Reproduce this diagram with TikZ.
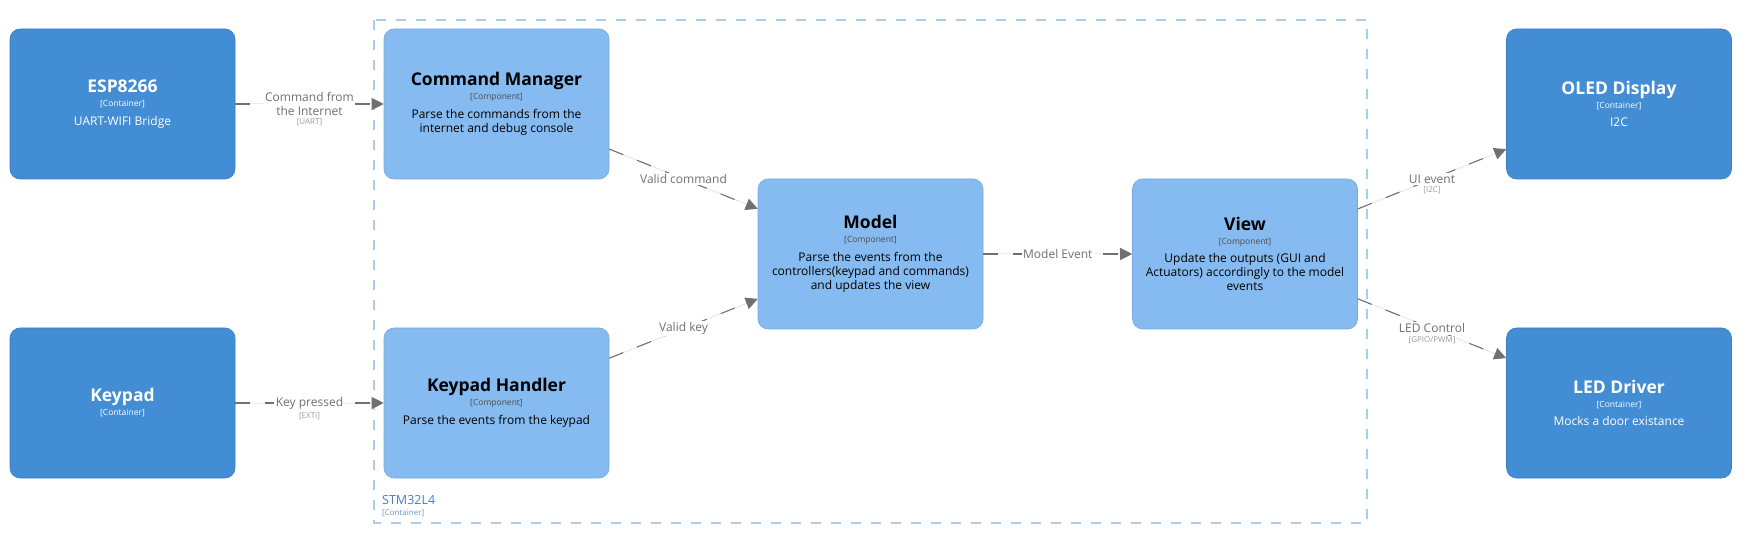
\documentclass[tikz,border=0pt]{standalone}
\usepackage{fontspec}
\setmainfont{Open Sans}
\usetikzlibrary{arrows.meta}
\definecolor{contfill}{HTML}{438DD5}
\definecolor{contdraw}{HTML}{3B7EC2}
\definecolor{compfill}{HTML}{85BBF0}
\definecolor{compdraw}{HTML}{76AADF}
\definecolor{edgecol}{HTML}{707070}
\definecolor{techcol}{HTML}{9A9A9A}
\definecolor{bndcol}{HTML}{AACDEE}
\definecolor{bndtext}{HTML}{3F7FC4}
\newcommand{\elemtext}[3]{%
\begin{minipage}{215pt}\centering\lineskiplimit=-20pt
{\fontsize{17.5}{17.5}\selectfont\bfseries #1\par}
{\color{typecol}\fontsize{8.5}{14}\selectfont [#2]\par}
\ifx&#3&\else{\fontsize{12}{14}\selectfont\vspace{4.5pt}#3\par}\fi
\end{minipage}}
\tikzset{
  elembox/.style={rectangle, rounded corners=10pt, minimum width=225pt, minimum height=150pt, inner sep=0pt, line width=0.6pt},
  contbox/.style={elembox, fill=contfill, draw=contdraw, text=white, execute at begin node={\colorlet{typecol}{white}}},
  compbox/.style={elembox, fill=compfill, draw=compdraw, text=black, execute at begin node={\colorlet{typecol}{black!70}}},
  rel/.style={draw=edgecol, line width=1.1pt, dash pattern=on 15pt off 15pt, -{Triangle[length=12pt,width=12pt]}, fill=edgecol},
  elab/.style={fill=white, text=edgecol, inner sep=1.5pt, align=center, font=\fontsize{12}{14}\selectfont},
  tlab/.style={fill=white, text=techcol, inner sep=1pt, font=\fontsize{8}{9}\selectfont},
  bnd/.style={draw=bndcol, line width=1.2pt, dash pattern=on 10pt off 10pt},
}
\begin{document}
\begin{tikzpicture}[x=1pt,y=-1pt]
\useasboundingbox (0,0) rectangle (1746,537);
% boundary
\draw[bnd] (374,20) rectangle (1367,523);
\node[anchor=base west, text=bndtext, inner sep=0pt, font=\fontsize{12.5}{14}\selectfont] (bt) at (382,504) {STM32L4};
\node[anchor=base west, text=bndtext!80, inner sep=0pt, font=\fontsize{8}{9}\selectfont] (bty) at (382,515.5) {[Container]};
% elements
\node[contbox] (esp) at (122.5,104) {\elemtext{ESP8266}{Container}{UART-WIFI Bridge}};
\node[contbox] (keypad) at (122.5,403) {\elemtext{Keypad}{Container}{}};
\node[compbox] (cmd) at (496.5,104) {\elemtext{Command Manager}{Component}{Parse the commands from the\\internet and debug console}};
\node[compbox] (kh) at (496.5,403) {\elemtext{Keypad Handler}{Component}{Parse the events from the keypad}};
\node[compbox] (model) at (870.5,254) {\elemtext{Model}{Component}{Parse the events from the\\controllers(keypad and commands)\\and updates the view}};
\node[compbox] (view) at (1245,254) {\elemtext{View}{Component}{Update the outputs (GUI and\\Actuators) accordingly to the model\\events}};
\node[contbox] (oled) at (1619,104) {\elemtext{OLED Display}{Container}{I2C}};
\node[contbox] (led) at (1619,403) {\elemtext{LED Driver}{Container}{Mocks a door existance}};
% relationships
\draw[rel] (esp) -- node[elab, label={[tlab, label distance=0pt]below:[UART]}] (l1) {Command from\\the Internet} (cmd);
\draw[rel] (keypad) -- node[elab, label={[tlab, label distance=0pt]below:[EXTi]}] (l2) {Key pressed} (kh);
\draw[rel] (cmd) -- node[elab] (l3) {Valid command} (model);
\draw[rel] (kh) -- node[elab] (l4) {Valid key} (model);
\draw[rel] (model) -- node[elab] (l5) {Model Event} (view);
\draw[rel] (view) -- node[elab, label={[tlab, label distance=0pt]below:[I2C]}] (l6) {UI event} (oled);
\draw[rel] (view) -- node[elab, label={[tlab, label distance=0pt]below:[GPIO/PWM]}] (l7) {LED Control} (led);
\end{tikzpicture}
\end{document}
